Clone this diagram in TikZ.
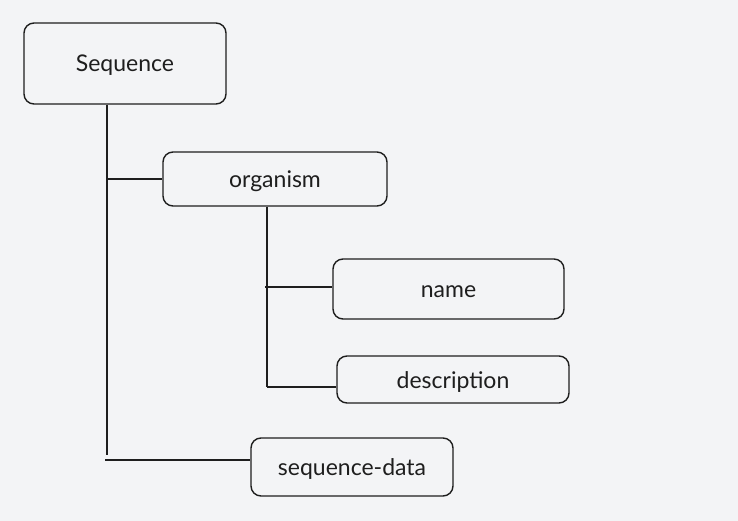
\documentclass[tikz,border=0pt]{standalone}
\usepackage{fontspec}
\setmainfont{Lato}
\definecolor{bg}{HTML}{F3F4F6}
\definecolor{ink}{HTML}{1E1E1E}
\begin{document}
\begin{tikzpicture}[x=1pt,y=-1pt,
  box/.style={draw=ink,line width=1.4pt,rounded corners=10pt,fill=bg,inner sep=0pt,font=\fontsize{23}{26}\selectfont,text=ink,text height=20pt,text depth=3pt},
  link/.style={draw=ink,line width=1.8pt}]
\fill[bg] (0,0) rectangle (738,521);
\useasboundingbox (0,0) rectangle (738,521);
\node[box,minimum width=202pt,minimum height=81pt] (seq) at (125,63.5) {Sequence};
\node[box,minimum width=224pt,minimum height=54pt] (org) at (275,179) {organism};
\node[box,minimum width=231pt,minimum height=60pt] (nam) at (448.5,289) {name};
\node[box,minimum width=232pt,minimum height=47pt] (des) at (453,379.5) {description};
\node[box,minimum width=202pt,minimum height=58pt] (sd) at (352,467) {sequence-data};
\coordinate (t1) at (seq.south -| 107,0);
\coordinate (t1e) at (107,455);
\coordinate (b3) at (105,460);
\coordinate (t2) at (org.south -| 267,0);
\coordinate (t2e) at (267,387);
\coordinate (b2) at (265,287);
\draw[link] (t1) -- (t1e);
\draw[link] (t1 |- org.west) -- (org.west);
\draw[link] (b3) -- (b3 -| sd.west);
\draw[link] (t2) -- (t2e);
\draw[link] (b2) -- (b2 -| nam.west);
\draw[link] (t2e) -- (t2e -| des.west);
\end{tikzpicture}
\end{document}
